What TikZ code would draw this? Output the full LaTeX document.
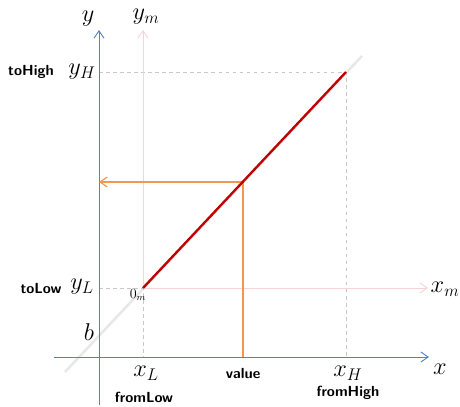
\documentclass[tikz,border=0pt]{standalone}
\usepackage{amsmath}
\usetikzlibrary{arrows.meta}

\definecolor{axisblue}{RGB}{84,130,200}
\definecolor{axispink}{RGB}{244,212,212}
\definecolor{mapred}{RGB}{192,0,0}
\definecolor{valorange}{RGB}{244,150,80}
\definecolor{guidegray}{RGB}{200,200,200}
\definecolor{extgray}{RGB}{232,232,232}

\begin{document}
\begin{tikzpicture}[x=0.03cm, y=-0.03cm, >={Straight Barb[length=2.2mm, width=3mm]}, mathlab/.style={font=\fontsize{21}{23}\selectfont}, namelab/.style={font=\fontsize{12.5}{14}\selectfont\sffamily\bfseries}, axis/.style={->, draw=axisblue, line width=0.8pt}, maxis/.style={->, draw=axispink, line width=0.8pt}, guide/.style={draw=guidegray, dashed, line width=0.7pt}]
	\useasboundingbox (0,0) rectangle (460,406);
	% points of the picture
	\coordinate (ytip) at (99,30);
	\coordinate (ybot) at (99,405);
	\coordinate (xleft) at (54,357);
	\coordinate (xtip) at (429,357);
	\coordinate (Om) at (143,288);
	\coordinate (ymtip) at (143,30);
	\coordinate (xmtip) at (428,288);
	\coordinate (H) at (346,72);
	\coordinate (yH) at (99,72);
	\coordinate (xH) at (346,357);
	\coordinate (yL) at (99,288);
	\coordinate (xL) at (143,357);
	\coordinate (V) at (243,182);
	\coordinate (yV) at (99,182);
	\coordinate (xV) at (243,357);
	\coordinate (extA) at (362,56);
	\coordinate (extB) at (65,372);
	% line through the map, continued
	\draw[extgray, line width=2.2pt] (extB) -- (extA);
	% guides
	\draw[guide] (yH) -- (H) -- (xH);
	\draw[guide] (yL) -- (Om) -- (xL);
	% mapped axes
	\draw[maxis] (Om) -- (ymtip);
	\draw[maxis] (Om) -- (xmtip);
	% axes
	\draw[axis] (ybot) -- (ytip);
	\draw[axis] (xleft) -- (xtip);
	% value
	\draw[valorange, line width=1pt] (xV) -- (V);
	\draw[->, valorange, line width=1pt] (V) -- (yV);
	% map
	\draw[mapred, line width=2pt] (Om) -- (H);
	% labels
	\node[mathlab] (ylab) at (88,19) {$y$};
	\node[mathlab] (ymlab) at (146,17) {$y_m$};
	\node[mathlab] (xlab) at (440,369) {$x$};
	\node[mathlab] (xmlab) at (445,289) {$x_m$};
	\node[mathlab] (yHlab) at (82,72) {$y_H$};
	\node[mathlab] (yLlab) at (82,287) {$y_L$};
	\node[mathlab] (blab) at (89,332) {$b$};
	\node[mathlab] (xLlab) at (146,373) {$x_L$};
	\node[mathlab] (xHlab) at (348,373) {$x_H$};
	\node[font=\large] (Omlab) at (138,295) {$0_m$};
	\node[namelab] (toHigh) at (31,72) {toHigh};
	\node[namelab] (toLow) at (41,288) {toLow};
	\node[namelab] (value) at (243,373) {value};
	\node[namelab] (fromLow) at (144,397) {fromLow};
	\node[namelab] (fromHigh) at (348,393) {fromHigh};
\end{tikzpicture}
\end{document}
